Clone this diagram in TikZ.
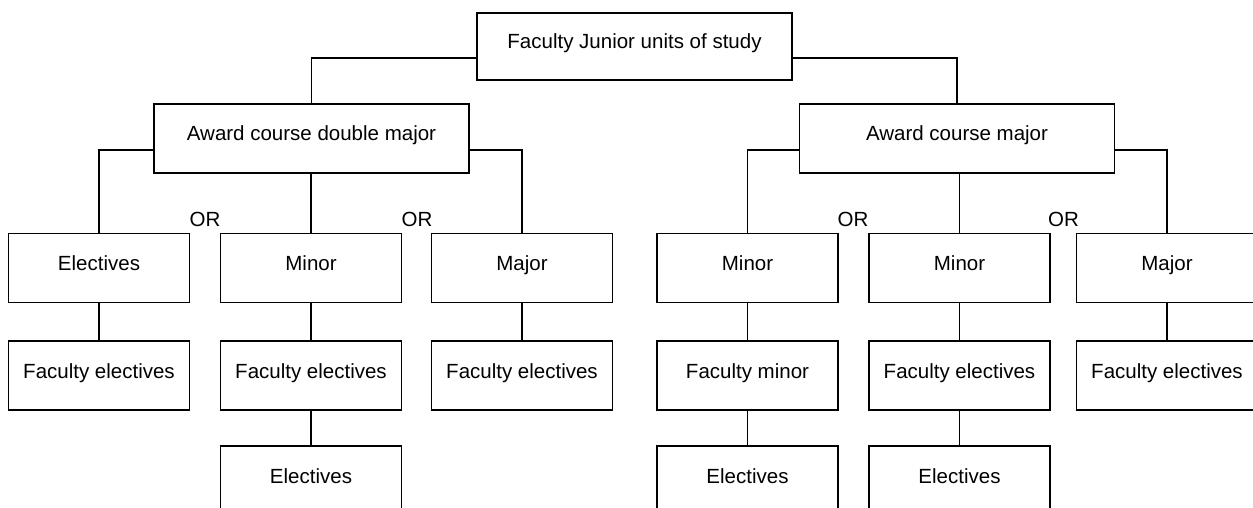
\documentclass[tikz,border=0pt]{standalone}
\usepackage{fontspec}
\setmainfont{Liberation Sans}
\begin{document}
\begin{tikzpicture}[x=1pt,y=-1pt,
  every node/.style={font=\fontsize{20.5}{24}\selectfont},
  unitbox/.style={draw, line width=1.2pt, inner sep=0pt, minimum height=69pt,
    text height=15pt, text depth=10pt},
  headbox/.style={unitbox, minimum width=315pt},
  colbox/.style={unitbox, minimum width=181pt},
  link/.style={line width=1.2pt},
  orlabel/.style={anchor=base, inner sep=0pt}]
\useasboundingbox[fill=white] (0,0) rectangle (1253,508);

% top level
\node[headbox, minimum height=67pt] (top) at (634.5,46.5) {Faculty Junior units of study};

% award courses
\node[headbox] (dm) at (311.5,138.5) {Award course double major};
\node[headbox] (am) at (957,138.5) {Award course major};

% second row
\node[colbox] (a2) at (99,268)    {Electives};
\node[colbox] (b2) at (311,268)   {Minor};
\node[colbox] (c2) at (522,268)   {Major};
\node[colbox] (d2) at (747.5,268) {Minor};
\node[colbox] (e2) at (959.5,268) {Minor};
\node[colbox] (f2) at (1167,268)  {Major};

% third row
\node[colbox] (a3) at (99,375.5)    {Faculty electives};
\node[colbox] (b3) at (311,375.5)   {Faculty electives};
\node[colbox] (c3) at (522,375.5)   {Faculty electives};
\node[colbox] (d3) at (747.5,375.5) {Faculty minor};
\node[colbox] (e3) at (959.5,375.5) {Faculty electives};
\node[colbox] (f3) at (1167,375.5)  {Faculty electives};

% fourth row
\node[colbox] (b4) at (311,480.5)   {Electives};
\node[colbox] (d4) at (747.5,480.5) {Electives};
\node[colbox] (e4) at (959.5,480.5) {Electives};

% OR labels between alternatives
\node[orlabel] (or1) at (205,226)  {OR};
\node[orlabel] (or2) at (417,226)  {OR};
\node[orlabel] (or3) at (853,226)  {OR};
\node[orlabel] (or4) at (1063.5,226) {OR};

% connectors
\draw[link] ([yshift=-11.5pt]top.west) -| (dm.north);
\draw[link] ([yshift=-11.5pt]top.east) -| (am.north);

\draw[link] ([yshift=-11.5pt]dm.west) -| (a2.north);
\draw[link] (b2.north |- dm.south) -- (b2.north);
\draw[link] ([yshift=-11.5pt]dm.east) -| (c2.north);

\draw[link] ([yshift=-11.5pt]am.west) -| (d2.north);
\draw[link] (e2.north |- am.south) -- (e2.north);
\draw[link] ([yshift=-11.5pt]am.east) -| (f2.north);

\foreach \c in {a,b,c,d,e,f}
  \draw[link] (\c2.south) -- (\c3.north);
\foreach \c in {b,d,e}
  \draw[link] (\c3.south) -- (\c4.north);
\end{tikzpicture}
\end{document}
